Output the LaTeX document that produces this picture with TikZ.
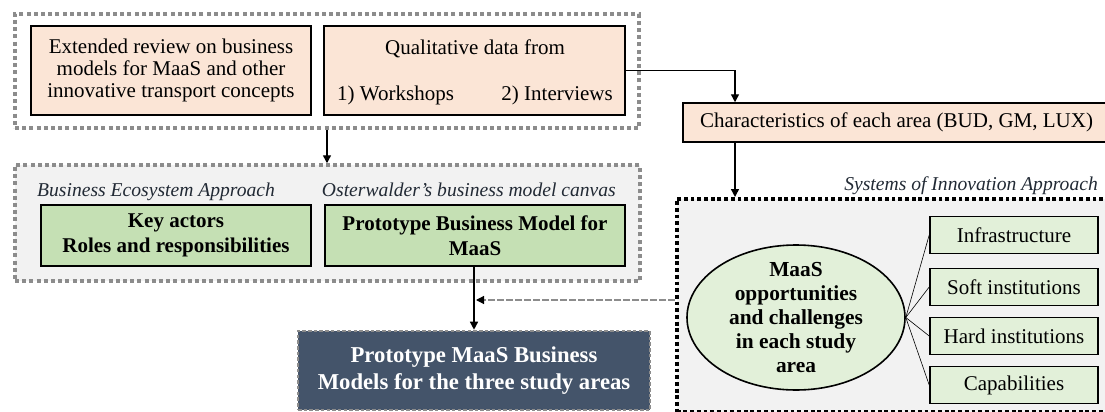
\documentclass[tikz,border=0pt]{standalone}
\usepackage{fontspec}
\setmainfont{Liberation Serif}
\usetikzlibrary{positioning,shapes.geometric,arrows.meta}
\definecolor{peach}{HTML}{FBE5D6}
\definecolor{leaf}{HTML}{C5E0B4}
\definecolor{paleleaf}{HTML}{E2F0D9}
\definecolor{panel}{HTML}{F2F2F2}
\definecolor{slate}{HTML}{44546A}
\definecolor{dotgray}{HTML}{8C8C8C}
\definecolor{navytext}{HTML}{222A35}

\begin{document}
\begin{tikzpicture}[x=1pt,y=-1pt,
  groupbox/.style={draw=dotgray, line width=3.5pt, dash pattern={on 4pt off 3.2pt}, inner sep=0pt},
  peachbox/.style={draw, fill=peach, line width=1.5pt, align=center, inner sep=0pt, font=\fontsize{21}{22}\selectfont},
  leafbox/.style={draw, fill=leaf, line width=2pt, align=center, inner sep=0pt, font=\bfseries\fontsize{21}{25}\selectfont},
  factorbox/.style={draw, fill=paleleaf, line width=1.6pt, minimum width=168, minimum height=37, inner sep=0pt, font=\fontsize{21}{24}\selectfont},
  tag/.style={inner sep=0pt, text=navytext, font=\itshape\fontsize{19.6}{22}\selectfont},
  plain/.style={inner sep=0pt, font=\fontsize{21}{22}\selectfont},
  arr/.style={line width=1.4pt, -{Triangle[length=8pt,width=8pt]}}
]
\useasboundingbox (0,0) rectangle (1105,412);
\clip (0,0) rectangle (1105,412);

% inputs
\node[groupbox, minimum width=624, minimum height=114] (inputs) at (327,71) {};
\node[peachbox, minimum width=280, minimum height=89] (review) at (171,70.5) {Extended review on business\\models for MaaS and other\\innovative transport concepts};
\node[peachbox, minimum width=301, minimum height=89] (qual) at (474.5,70.5) {};
\node[plain, anchor=base] (qualhead) at (475,55) {Qualitative data from};
\node[plain, anchor=base west] (qualws) at (337,100) {1) Workshops};
\node[plain, anchor=base east] (qualiv) at (613,100) {2) Interviews};

% frameworks
\node[groupbox, fill=panel, minimum width=625, minimum height=116] (frames) at (327.5,223) {};
\node[tag, anchor=base west] (ecotag) at (37,196) {Business Ecosystem Approach};
\node[tag, anchor=base east] (ostertag) at (616,196) {Osterwalder’s business model canvas};
\node[leafbox, minimum width=270, minimum height=61] (actors) at (176,235.5) {Key actors\\Roles and responsibilities};
\node[leafbox, minimum width=300, minimum height=61] (proto) at (475,235.5) {Prototype Business Model for\\MaaS};

% output
\node[draw=dotgray, fill=slate, line width=2.6pt, dash pattern={on 3.5pt off 2.2pt}, minimum width=352, minimum height=79, inner sep=0pt, align=center, text=white, font=\bfseries\fontsize{22.7}{27}\selectfont] (result) at (474,370.5) {Prototype MaaS Business\\Models for the three study areas};

% study areas
\node[draw, fill=peach, line width=1.5pt, minimum width=427, minimum height=39, inner sep=0pt, font=\fontsize{21}{22}\selectfont] (areas) at (896.5,122.5) {Characteristics of each area (BUD, GM, LUX)};
\node[draw, fill=panel, line width=3.5pt, dash pattern={on 3.8pt off 2.9pt}, minimum width=435, minimum height=213, inner sep=0pt, anchor=north west] (sysbox) at (675,197) {};
\node[tag, anchor=base east] (systag) at (1098,190) {Systems of Innovation Approach};
\node[ellipse, draw, fill=paleleaf, line width=1.6pt, minimum width=218, minimum height=145, inner sep=0pt] (ell) at (796,317.5) {};
\node[align=center, inner sep=0pt, font=\bfseries\fontsize{21.4}{24}\selectfont] (elltext) at (ell.center) {MaaS\\opportunities\\and challenges\\in each study\\area};
\node[factorbox] (infra) at (1014,235) {Infrastructure};
\node[factorbox] (soft) at (1014,287) {Soft institutions};
\node[factorbox] (hard) at (1014,336) {Hard institutions};
\node[factorbox] (capab) at (1014,385) {Capabilities};

% connectors
\draw[arr] (inputs) -- (inputs |- frames.north);
\draw[arr] (qual.east) -| (735,0 |- areas.north);
\draw[arr] (areas.south -| 735,0) -- (735,0 |- sysbox.north);
\coordinate (joint) at (474,300);
\draw[arr] (proto.south -| result) -- (result);
\draw[dotgray, line width=1.2pt, dash pattern={on 7pt off 2pt}, -{Triangle[length=8pt,width=8pt,black]}] (sysbox.west |- joint) -- ([xshift=2pt]joint);
\foreach \f in {infra,soft,hard,capab}
  \draw[line width=0.6pt] (ell.east) -- (\f.west);
\end{tikzpicture}
\end{document}
